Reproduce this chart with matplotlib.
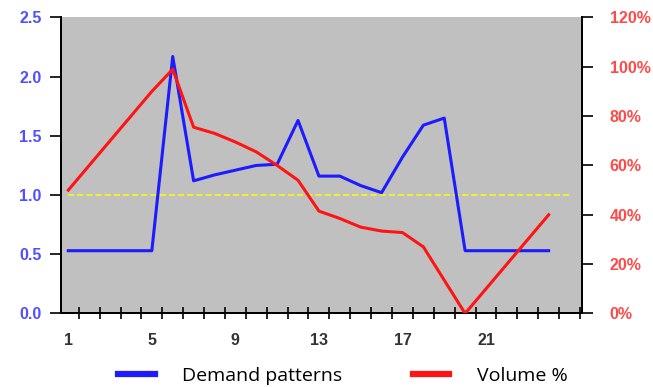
import matplotlib.pyplot as plt
from matplotlib.ticker import FixedLocator, FuncFormatter

# data
periods = list(range(1, 25))
demand = [0.53, 0.53, 0.53, 0.53, 0.53, 2.17, 1.12, 1.17, 1.21, 1.25, 1.26, 1.63,
          1.16, 1.16, 1.08, 1.02, 1.32, 1.59, 1.65, 0.53, 0.53, 0.53, 0.53, 0.53]
volume_pct = [50, 60, 70, 80, 90, 99, 75.5, 73, 69.5, 65.5, 60, 54,
              41.5, 38.5, 35, 33.4, 32.8, 27, 13.5, 0, 10, 20, 30, 40]
reference_level = 1.0
x_labels = [1, 5, 9, 13, 17, 21]

left_color = '#5050ff'
right_color = '#ff4a4a'

fig = plt.figure(figsize=(6.53, 3.87), dpi=100)
ax = fig.add_axes([0.0934, 0.19, 0.798, 0.765])
ax.set_facecolor('#c0c0c0')

ax.hlines(reference_level, 1, 25, colors='#ffff00', linestyles=(0, (4, 2)), linewidth=1.1, zorder=2)
line_demand, = ax.plot(periods, demand, color='#1c1cff', linewidth=2.2, zorder=3, label='Demand patterns')

ax2 = ax.twinx()
line_volume, = ax2.plot(periods, volume_pct, color='#ff1414', linewidth=2.2, zorder=3, label='Volume %')

ax.set_xlim(0.65, 25.6)
ax.set_ylim(0, 2.5)
ax2.set_ylim(0, 120)

ax.set_yticks([0, 0.5, 1.0, 1.5, 2.0, 2.5])
ax.yaxis.set_major_formatter(FuncFormatter(lambda v, p: f'{v:.1f}'))
ax2.set_yticks(range(0, 121, 20))
ax2.yaxis.set_major_formatter(FuncFormatter(lambda v, p: f'{v:.0f}%'))

ax.set_xticks(x_labels)
ax.xaxis.set_minor_locator(FixedLocator([k + 0.5 for k in range(1, 26)]))
ax.tick_params(axis='x', which='major', length=0, pad=14, labelsize=11.5, labelcolor='#333333')
ax.tick_params(axis='x', which='minor', direction='inout', length=8, width=1.2)
ax.tick_params(axis='y', direction='out', length=8, width=1.2, labelsize=11.5, labelcolor=left_color, pad=6)
ax2.tick_params(axis='y', direction='out', length=8, width=1.2, labelsize=11.5, labelcolor=right_color, pad=12)

for lab in ax.get_xticklabels() + ax.get_yticklabels() + ax2.get_yticklabels():
    lab.set_fontweight('bold')
    lab.set_family('Liberation Sans')

for a in (ax, ax2):
    a.spines['top'].set_visible(False)
    a.spines['left'].set_linewidth(1.4)
    a.spines['right'].set_linewidth(1.4)
    a.spines['bottom'].set_linewidth(1.4)

fig.legend(handles=[line_demand, line_volume], loc='center', bbox_to_anchor=(0.525, 0.028),
           ncol=2, frameon=False, handlelength=1.9, handletextpad=1.4, columnspacing=3.6,
           prop={'family': 'Open Sans', 'size': 14})
for h in fig.legends[0].legend_handles:
    h.set_linewidth(4.5)

fig.savefig('out.png', dpi=100)
